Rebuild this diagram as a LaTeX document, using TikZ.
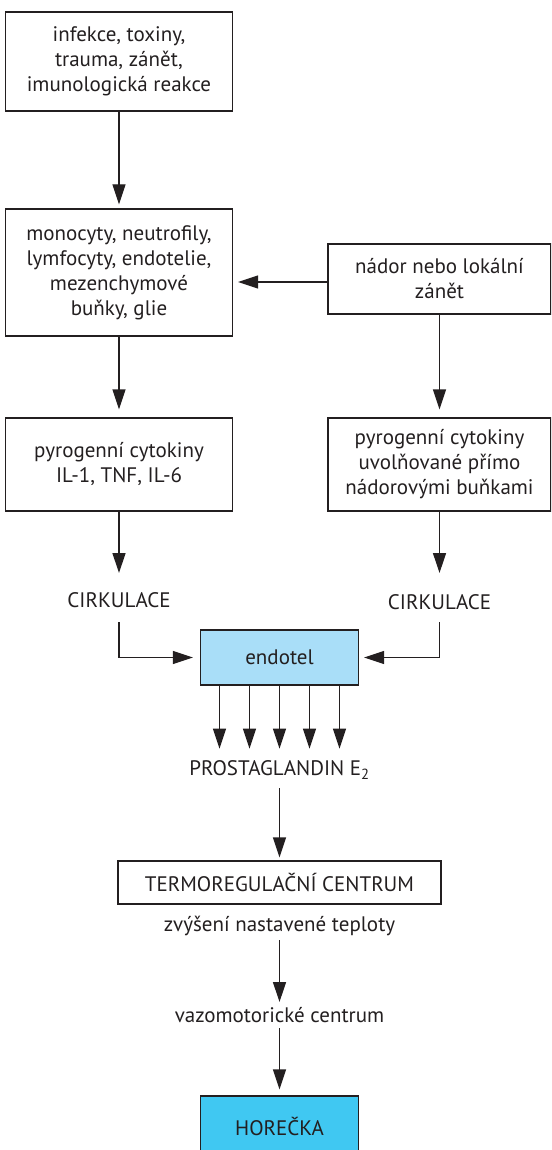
\documentclass[tikz,border=0pt]{standalone}
\usepackage{fontspec}
\setmainfont{PT Sans}
\usetikzlibrary{arrows.meta,calc}
\definecolor{ink}{HTML}{231F20}
\definecolor{lightblue}{HTML}{A9DEF8}
\definecolor{brightblue}{HTML}{40C8F2}
\tikzset{
  box/.style={draw=ink, line width=1.3pt, text=ink, align=center, inner sep=0pt,
              font=\fontsize{21}{25}\selectfont},
  lbl/.style={text=ink, inner sep=0pt, font=\fontsize{21}{25}\selectfont},
  arr/.style={draw=ink, line width=1.3pt, -{Triangle[length=20pt,width=13pt]}},
}
\begin{document}
\begin{tikzpicture}[x=1pt,y=-1pt]
\useasboundingbox (0,0) rectangle (551,1150);
\begin{scope}
\clip (0,0) rectangle (551,1150);
\node[box, minimum width=227pt, minimum height=99pt] (top) at (119,61.5)
  {infekce, toxiny,\\trauma, zánět,\\imunologická reakce};
\node[box, minimum width=227pt, minimum height=127pt] (cells) at (119,272.5)
  {monocyty, neutrofily,\\lymfocyty, endotelie,\\mezenchymové\\buňky, glie};
\node[box, minimum width=223pt, minimum height=70pt] (tumor) at (439.5,279)
  {nádor nebo lokální\\zánět};
\node[box, minimum width=227pt, minimum height=93pt] (pyroL) at (119,464.5)
  {pyrogenní cytokiny\\IL-1, TNF, IL-6};
\node[box, minimum width=223pt, minimum height=93pt] (pyroR) at (439.5,464.5)
  {pyrogenní cytokiny\\uvolňované přímo\\nádorovými buňkami};
\node[lbl] (cirkL) at (119,600) {CIRKULACE};
\node[lbl] (cirkR) at (439.5,602) {CIRKULACE};
\node[box, fill=lightblue, minimum width=158pt, minimum height=55pt] (endotel) at (279.5,657.5) {endotel};
\node[lbl] (pge) at (279.5,770) {PROSTAGLANDIN E\textsubscript{2}};
\node[box, minimum width=323pt, minimum height=43pt] (termo) at (279.5,882.5) {TERMOREGULAČNÍ CENTRUM};
\node[lbl] (zvys) at (279.5,926) {zvýšení nastavené teploty};
\node[lbl] (vazo) at (279.5,1015) {vazomotorické centrum};
\node[box, fill=brightblue, minimum width=158pt, minimum height=60pt, text depth=0pt] (horecka) at (279.5,1126) {HOREČKA};

\draw[arr] (top.south) -- ($(cells.north)+(0,-4)$);
\draw[arr] ($(tumor.west)+(0,3)$) -- ($(cells.east |- tumor.west)+(5,3)$);
\draw[arr] (cells.south) -- ($(pyroL.north)+(0,-8)$);
\draw[arr] (tumor.south) -- ($(pyroR.north)+(0,-8)$);
\draw[arr] (pyroL.south) -- ($(pyroL.south |- cirkL.center)+(0,-27)$);
\draw[arr] (pyroR.south) -- ($(pyroR.south |- cirkR.center)+(0,-29)$);
\draw[arr] ($(cirkL.center)+(0,22)$) |- ($(endotel.west)+(-7,0)$);
\draw[arr] ($(cirkR.center)+(0,20)$) |- ($(endotel.east)+(5,0)$);
\foreach \dx in {-60,-30,0,30,60}
  \draw[arr] ($(endotel.south)+(\dx,0)$) -- ($(endotel.south)+(\dx,63)$);
\draw[arr] ($(pge.center)+(0,18)$) -- ($(termo.north)+(0,-3)$);
\draw[arr] ($(zvys.center)+(0,14)$) -- ($(vazo.center)+(0,-13)$);
\draw[arr] ($(vazo.center)+(0,13)$) -- ($(horecka.north)+(0,-6)$);
\end{scope}
\end{tikzpicture}
\end{document}
